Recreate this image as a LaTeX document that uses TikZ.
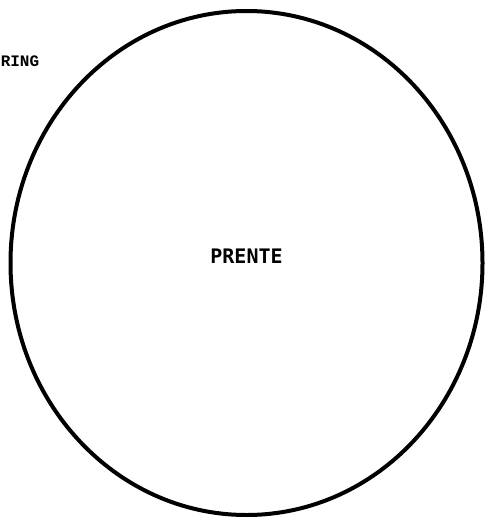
\documentclass[tikz,border=0pt]{standalone}
\usepackage{fontspec}
\usepackage{tikz}
\usetikzlibrary{shapes.geometric}
\newfontfamily\labelfont{DejaVu Sans Mono}
\newfontfamily\sidefont{Liberation Mono}

\begin{document}
\begin{tikzpicture}[x=0.75pt,y=-0.75pt,
  outline/.style={draw=black,line width=3pt,ellipse,inner sep=0pt},
  tag/.style={inner sep=0pt,text=black}]
\useasboundingbox (0,0) rectangle (485,517);
\node[outline,minimum width=472*0.75pt,minimum height=504*0.75pt] (ring) at (246.5,263) {};
\node[tag,anchor=base,font=\labelfont\bfseries\fontsize{15}{18}\selectfont] (prente) at (246.5,263) {PRENTE};
\node[tag,anchor=base west,font=\sidefont\bfseries\fontsize{12}{14}\selectfont] (side) at (0.5,66) {RING};
\end{tikzpicture}
\end{document}
